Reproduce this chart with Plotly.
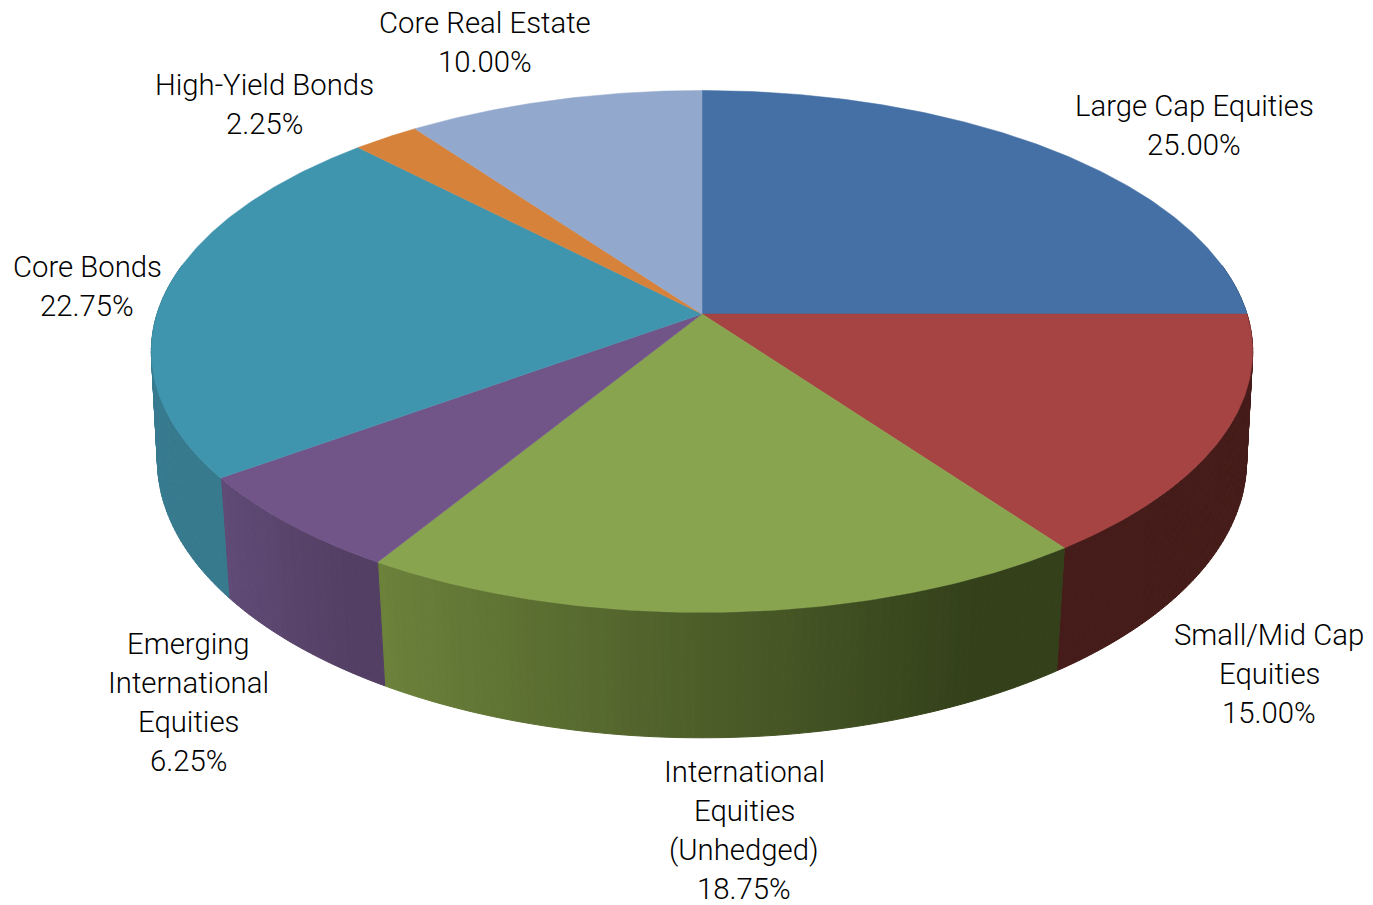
import math
import plotly.graph_objects as go

# Portfolio allocation, clockwise from twelve o'clock
categories = [
    "Large Cap Equities",
    "Small/Mid Cap<br>Equities",
    "International<br>Equities<br>(Unhedged)",
    "Emerging<br>International<br>Equities",
    "Core Bonds",
    "High-Yield Bonds",
    "Core Real Estate",
]
weights = [25.00, 15.00, 18.75, 6.25, 22.75, 2.25, 10.00]

top_colors = ["#4570a5", "#a64343", "#88a44f", "#715589", "#4095ae", "#d6823a", "#93a8cd"]
wall_left = ["#2f4d72", "#451c19", "#6c823b", "#604b77", "#3a7f98", "#91582a", "#64728c"]
wall_right = ["#2f4d72", "#451c19", "#33401a", "#533f63", "#377a8e", "#91582a", "#64728c"]

label_x = [1194, 1269, 744, 188, 87, 264, 485]
label_y = [125, 674, 830, 702, 286, 104, 42]

# Perspective projection of the disc's upper and lower faces onto the page
CENTER_X = 702
TOP_FACE = dict(cy=314, cx=545, ay=255.6, k=0.1434)
BOTTOM_FACE = dict(cy=424, cx=540, ay=273, k=0.13)
ARC_STEP = 0.5
WALL_STEP = 0.75
LINE_PITCH = 39


def project(face, angle_deg):
    a = math.radians(angle_deg)
    u, v = math.sin(a), math.cos(a)
    d = 1 + face["k"] * v
    return CENTER_X + face["cx"] * u / d, face["cy"] - face["ay"] * v / d


def mix(c1, c2, t):
    p = [int(c1[i:i + 2], 16) for i in (1, 3, 5)]
    q = [int(c2[i:i + 2], 16) for i in (1, 3, 5)]
    return "rgb({},{},{})".format(*[round(a + (b - a) * t) for a, b in zip(p, q)])


def polygon(xs, ys, color, line_width):
    return go.Scatter(
        x=xs, y=ys, mode="lines", fill="toself", fillcolor=color,
        line=dict(color=color, width=line_width), hoverinfo="skip", showlegend=False,
    )


edges = [0.0]
for w in weights:
    edges.append(edges[-1] + w * 3.6)

fig = go.Figure()

# Side walls: narrow shaded strips along the visible front rim
for i, (start, end) in enumerate(zip(edges, edges[1:])):
    a = start
    while a < end - 1e-9:
        b = min(a + WALL_STEP, end)
        mid = (a + b) / 2
        if math.cos(math.radians(mid)) < 0.2:
            x1, y1 = project(TOP_FACE, a)
            x2, y2 = project(TOP_FACE, b)
            x3, y3 = project(BOTTOM_FACE, b)
            x4, y4 = project(BOTTOM_FACE, a)
            # the shade runs from the left end of the slice's rim to its right end
            t = min(1.0, (end - mid) / ((end - start) * 0.85))
            fig.add_trace(polygon([x1, x2, x3, x4, x1], [y1, y2, y3, y4, y1],
                                  mix(wall_left[i], wall_right[i], t), 1))
        a = b

# Upper face: one wedge per allocation
for i, (start, end) in enumerate(zip(edges, edges[1:])):
    n = max(2, int((end - start) / ARC_STEP))
    pts = [project(TOP_FACE, start + (end - start) * j / n) for j in range(n + 1)]
    cx, cy = CENTER_X, TOP_FACE["cy"]
    xs = [cx] + [p[0] for p in pts] + [cx]
    ys = [cy] + [p[1] for p in pts] + [cy]
    fig.add_trace(polygon(xs, ys, top_colors[i], 0.5))

# Labels are set line by line so the leading stays fixed
for name, w, x, y in zip(categories, weights, label_x, label_y):
    lines = name.split("<br>") + [f"{w:.2f}%"]
    for j, line in enumerate(lines):
        fig.add_annotation(
            x=x, y=y + (j - (len(lines) - 1) / 2) * LINE_PITCH, xref="x", yref="y",
            text=line, showarrow=False, xanchor="center", yanchor="middle", align="center",
            font=dict(family="Roboto", size=29.3, color="#000000", weight=300),
        )

fig.update_layout(
    width=1373, height=905, margin=dict(l=0, r=0, t=0, b=0),
    paper_bgcolor="#ffffff", plot_bgcolor="#ffffff", showlegend=False,
    xaxis=dict(range=[0, 1373], visible=False, fixedrange=True),
    yaxis=dict(range=[905, 0], visible=False, fixedrange=True),
)

fig.write_html("out.html", config=dict(displayModeBar=False))
